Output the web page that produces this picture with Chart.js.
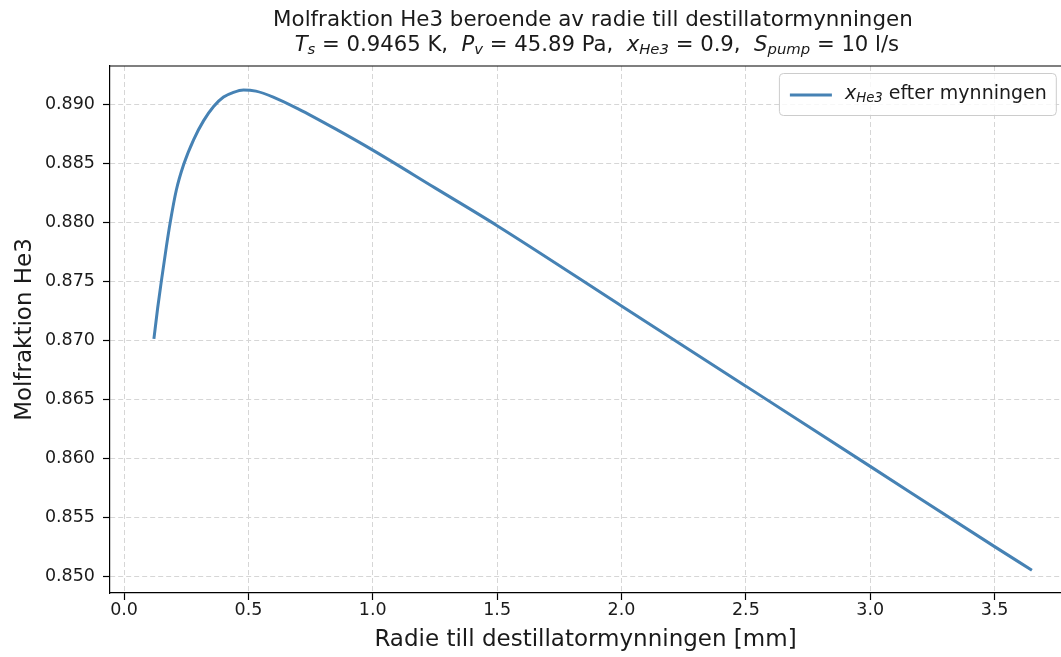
<!DOCTYPE html>
<html>
<head>
<meta charset="utf-8">
<script src="https://cdn.jsdelivr.net/npm/chart.js@4/dist/chart.umd.min.js"></script>
<style>
  html, body { margin: 0; padding: 0; background: #fff; overflow: hidden; }
  #wrap { width: 1061px; height: 657px; }
</style>
</head>
<body>
<div id="wrap"><canvas id="grafico_linje"></canvas></div>
<script>
// Data
const radie = [0.12, 0.135, 0.15, 0.17, 0.185, 0.21, 0.24, 0.28, 0.32, 0.36, 0.40, 0.44, 0.48, 0.53, 0.60, 0.70, 0.85, 1.0, 1.25, 1.5, 2.0, 2.5, 3.0, 3.5, 3.65]
const molfraktion = [0.8701, 0.8727, 0.8750, 0.8779, 0.8799, 0.8827, 0.8849, 0.8870, 0.8886, 0.8898, 0.8906, 0.8910, 0.8912, 0.8911, 0.8906, 0.8896, 0.8879, 0.8861, 0.8829, 0.8797, 0.8729, 0.8661, 0.8593, 0.8525, 0.8505]
const xTicks = [0.0, 0.5, 1.0, 1.5, 2.0, 2.5, 3.0, 3.5]
const yTicks = [0.850, 0.855, 0.860, 0.865, 0.870, 0.875, 0.880, 0.885, 0.890]

const titel = 'Molfraktion He3 beroende av radie till destillatormynningen'
const undertitel = [
    {t: 'T', i: 1}, {t: 's', i: 1, sub: 1}, {t: ' = 0.9465 K,  '},
    {t: 'P', i: 1}, {t: 'v', i: 1, sub: 1}, {t: ' = 45.89 Pa,  '},
    {t: 'x', i: 1}, {t: 'He3', i: 1, sub: 1}, {t: ' = 0.9,  '},
    {t: 'S', i: 1}, {t: 'pump', i: 1, sub: 1}, {t: ' = 10 l/s'}
]
const legendText = [{t: 'x', i: 1}, {t: 'He3', i: 1, sub: 1}, {t: ' efter mynningen'}]

// axelgränser (matplotlib-marginal 5 %)
const xFull = [-0.0565, 3.8265]
const xMax = 3.767   // bilden är beskuren till höger
const yMin = 0.84857
const yMax = 0.89323

const FONT = 'DejaVu Sans'
const linjeFarg = '#4682b4'
const SUB = 0.7

Chart.defaults.font.family = FONT
Chart.defaults.color = '#1a1a1a'

function runsWidth(ctx, runs, size) {
    let w = 0
    for (const r of runs) {
        ctx.font = (r.i ? 'italic ' : '') + (r.sub ? size * SUB : size) + 'px "' + FONT + '"'
        r.w = ctx.measureText(r.t).width
        w += r.w
    }
    return w
}

function drawRuns(ctx, runs, x, y, size) {
    ctx.textBaseline = 'middle'
    ctx.textAlign = 'left'
    runsWidth(ctx, runs, size)
    for (const r of runs) {
        ctx.font = (r.i ? 'italic ' : '') + (r.sub ? size * SUB : size) + 'px "' + FONT + '"'
        ctx.fillText(r.t, x, y + (r.sub ? size * 0.25 : 0))
        x += r.w
    }
}

// titel, övre ram och legend
const extras = {
    id: 'extras',
    beforeDatasetsDraw(chart) {
        const {ctx, chartArea} = chart
        ctx.save()
        ctx.strokeStyle = '#000'
        ctx.lineWidth = 1.2
        ctx.beginPath()
        ctx.moveTo(chartArea.left, chartArea.top)
        ctx.lineTo(chartArea.right + 2, chartArea.top)
        ctx.stroke()
        ctx.restore()
    },
    afterDraw(chart) {
        const {ctx, chartArea} = chart
        const xs = chart.scales.x
        const cx = xs.getPixelForValue((xFull[0] + xFull[1]) / 2)
        const fullRight = xs.getPixelForValue(xFull[1])
        ctx.save()
        ctx.fillStyle = '#1a1a1a'

        // titel
        ctx.font = '21.4px "' + FONT + '"'
        ctx.textAlign = 'center'
        ctx.textBaseline = 'middle'
        ctx.fillText(titel, cx, 20)
        const w2 = runsWidth(ctx, undertitel, 21.2)
        drawRuns(ctx, undertitel, cx + 4 - w2 / 2, 45, 21.2)

        // legend
        const size = 19
        const tw = runsWidth(ctx, legendText, size)
        const right = fullRight - 20
        const left = right - (11 + 42 + 13 + tw + 9)
        const top = chartArea.top + 7
        const h = 42
        ctx.beginPath()
        ctx.roundRect(left + 0.5, top + 0.5, right - left, h, 4)
        ctx.fillStyle = 'rgba(255,255,255,0.8)'
        ctx.fill()
        ctx.strokeStyle = '#cccccc'
        ctx.lineWidth = 1
        ctx.stroke()
        ctx.strokeStyle = linjeFarg
        ctx.lineWidth = 3
        ctx.beginPath()
        ctx.moveTo(left + 11, top + h / 2 + 1)
        ctx.lineTo(left + 53, top + h / 2 + 1)
        ctx.stroke()
        ctx.fillStyle = '#1a1a1a'
        drawRuns(ctx, legendText, left + 66, top + h / 2, size)
        ctx.restore()
    }
}

const data = {
    datasets: [{
        data: radie.map((r, i) => ({x: r, y: molfraktion[i]})),
        borderColor: linjeFarg,
        borderWidth: 3,
        pointRadius: 0,
        fill: false,
        cubicInterpolationMode: 'monotone'
    }]
}

const gridOpts = {
    color: '#d6d6d6',
    lineWidth: 1,
    tickColor: '#000',
    tickBorderDash: [],
    tickLength: 7,
    tickWidth: 1.2
}

const config = {
    type: 'line',
    data,
    plugins: [extras],
    options: {
        responsive: true,
        maintainAspectRatio: false,
        animation: false,
        layout: { padding: { top: 66, left: 0, right: 0, bottom: 0 } },
        plugins: {
            legend: { display: false },
            title: { display: false },
            tooltip: { enabled: false }
        },
        scales: {
            x: {
                type: 'linear',
                min: xFull[0],
                max: xMax,
                afterBuildTicks: s => { s.ticks = xTicks.map(v => ({value: v})) },
                afterFit: s => { s.height = 64 },
                ticks: {
                    font: { size: 17.5 },
                    padding: 0,
                    maxRotation: 0,
                    callback: v => v.toFixed(1)
                },
                grid: gridOpts,
                border: { color: '#000', width: 1.2, dash: [5, 3] },
                title: {
                    display: true,
                    text: 'Radie till destillatormynningen [mm]',
                    font: { size: 23 },
                    padding: { top: 0, bottom: 3 }
                }
            },
            y: {
                min: yMin,
                max: yMax,
                afterBuildTicks: s => { s.ticks = yTicks.map(v => ({value: v})) },
                afterFit: s => { s.width = 110 },
                ticks: {
                    font: { size: 17.5 },
                    padding: 8,
                    callback: v => v.toFixed(3)
                },
                grid: gridOpts,
                border: { color: '#000', width: 1.2, dash: [5, 3] },
                title: {
                    display: true,
                    text: 'Molfraktion He3',
                    font: { size: 23 },
                    padding: { top: 11, bottom: 0 }
                }
            }
        }
    }
}

const graf = new Chart(document.getElementById('grafico_linje'), config)
</script>
</body>
</html>
